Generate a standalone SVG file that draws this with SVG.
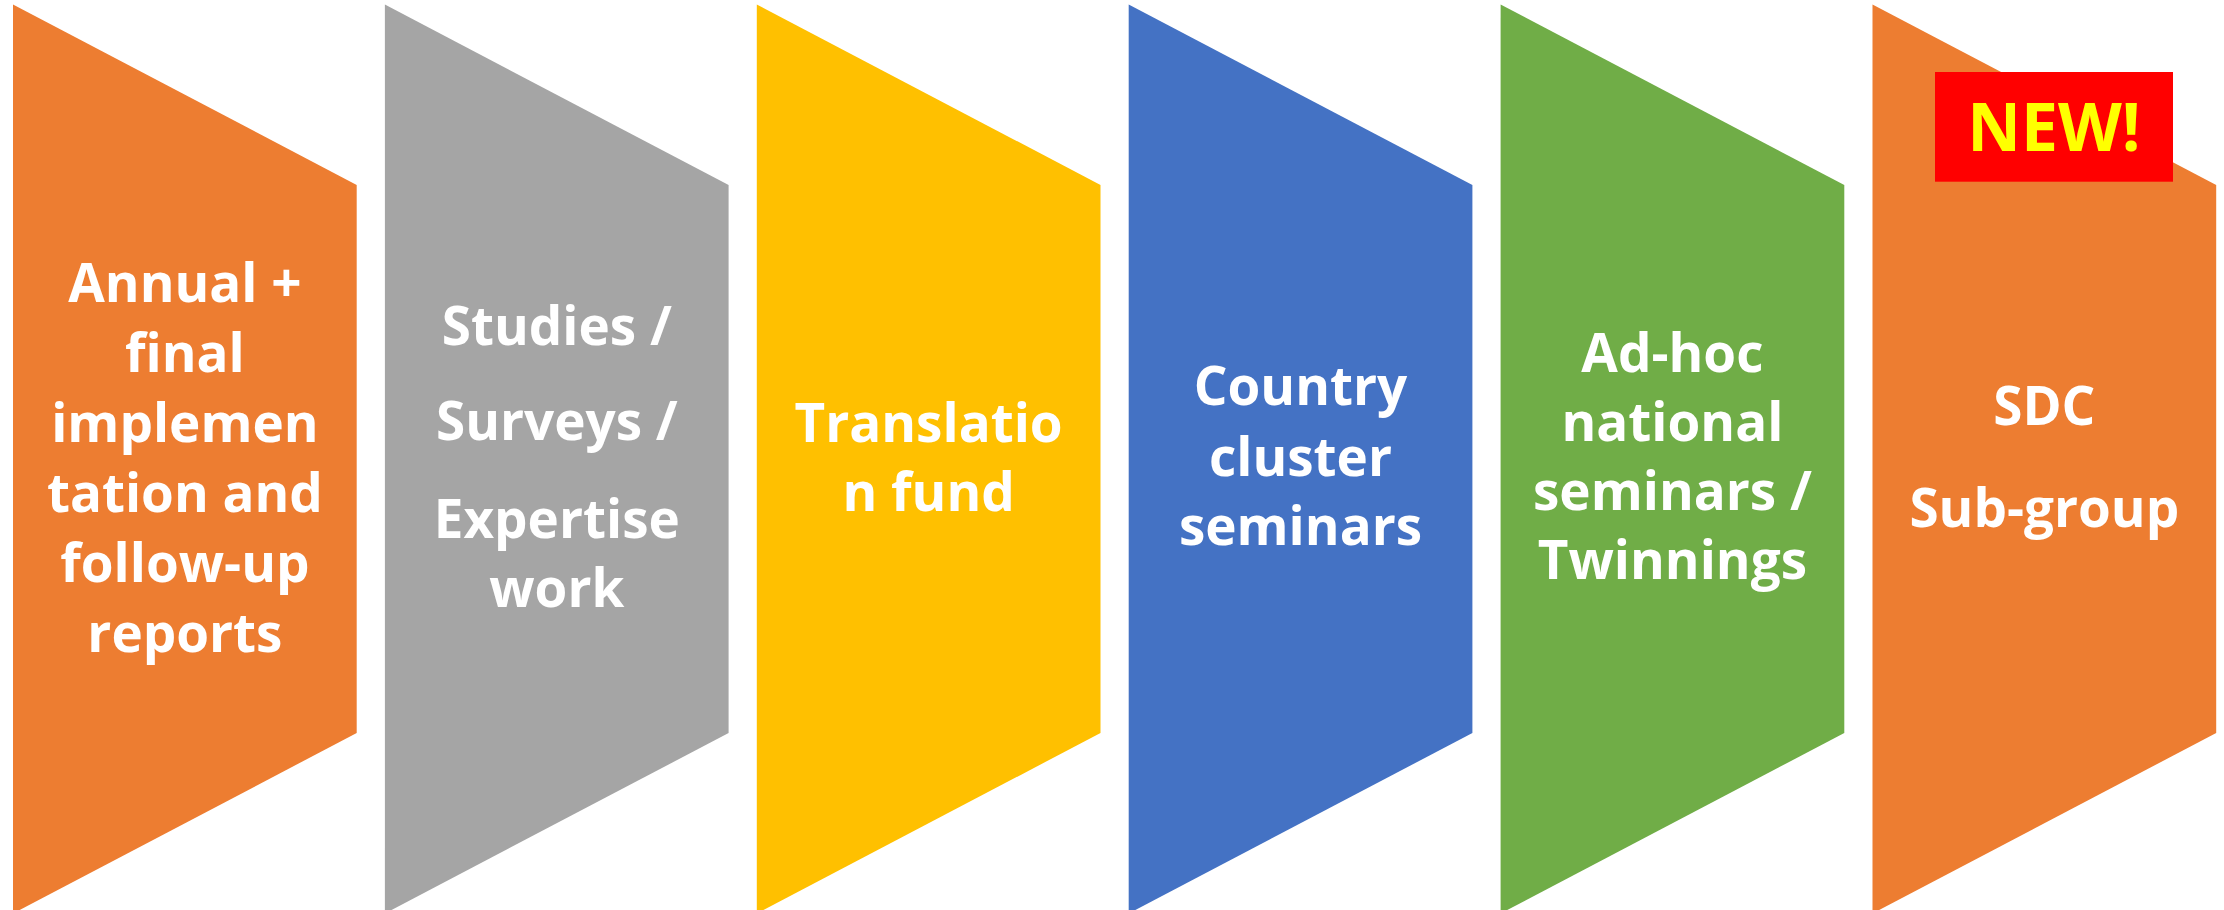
<svg xmlns="http://www.w3.org/2000/svg" width="2224" height="910" viewBox="0 0 2224 910">
<style>
.lbl{font-family:"Open Sans","Liberation Sans",sans-serif;font-weight:700;font-size:53px;fill:#FFFFFF;text-anchor:middle}
.new{font-family:"Open Sans","Liberation Sans",sans-serif;font-weight:700;font-size:66px;fill:#FFFF00;text-anchor:middle}
</style>
<rect width="2224" height="910" fill="#FFFFFF"/>
<g id="connectors"/>
<g id="node1">
<polygon points="13,4.5 356.7,185 356.7,733 13,913.5" fill="#ED7D31"/>
<text class="lbl"><tspan x="184.9" y="301.7">Annual +</tspan><tspan x="184.9" y="371.7">final</tspan><tspan x="184.9" y="441.7">implemen</tspan><tspan x="184.9" y="511.7">tation and</tspan><tspan x="184.9" y="581.7">follow-up</tspan><tspan x="184.9" y="651.7">reports</tspan></text>
</g>
<g id="node2">
<polygon points="384.9,4.5 728.6,185 728.6,733 384.9,913.5" fill="#A5A5A5"/>
<text class="lbl"><tspan x="556.8" y="345">Studies /</tspan><tspan x="556.8" y="440">Surveys /</tspan><tspan x="556.8" y="538">Expertise</tspan><tspan x="556.8" y="607">work</tspan></text>
</g>
<g id="node3">
<polygon points="756.8,4.5 1100.5,185 1100.5,733 756.8,913.5" fill="#FFC000"/>
<text class="lbl"><tspan x="928.6" y="441.7">Translatio</tspan><tspan x="928.6" y="510.5">n fund</tspan></text>
</g>
<g id="node4">
<polygon points="1128.7,4.5 1472.4,185 1472.4,733 1128.7,913.5" fill="#4472C4"/>
<text class="lbl"><tspan x="1300.5" y="405">Country</tspan><tspan x="1300.5" y="475.5">cluster</tspan><tspan x="1300.5" y="545">seminars</tspan></text>
</g>
<g id="node5">
<polygon points="1500.6,4.5 1844.3,185 1844.3,733 1500.6,913.5" fill="#70AD47"/>
<text class="lbl"><tspan x="1672.4" y="371.7">Ad-hoc</tspan><tspan x="1672.4" y="440.5">national</tspan><tspan x="1672.4" y="509.5">seminars /</tspan><tspan x="1672.4" y="578.5">Twinnings</tspan></text>
</g>
<g id="node6">
<polygon points="1872.5,4.5 2216.2,185 2216.2,733 1872.5,913.5" fill="#ED7D31"/>
<text class="lbl"><tspan x="2044.3" y="425">SDC</tspan><tspan x="2044.3" y="526.5">Sub-group</tspan></text>
</g>
<g id="badge">
<rect x="1935" y="72" width="238" height="109.7" fill="#FF0000"/>
<text class="new" x="2054" y="151">NEW!</text>
</g>
</svg>
